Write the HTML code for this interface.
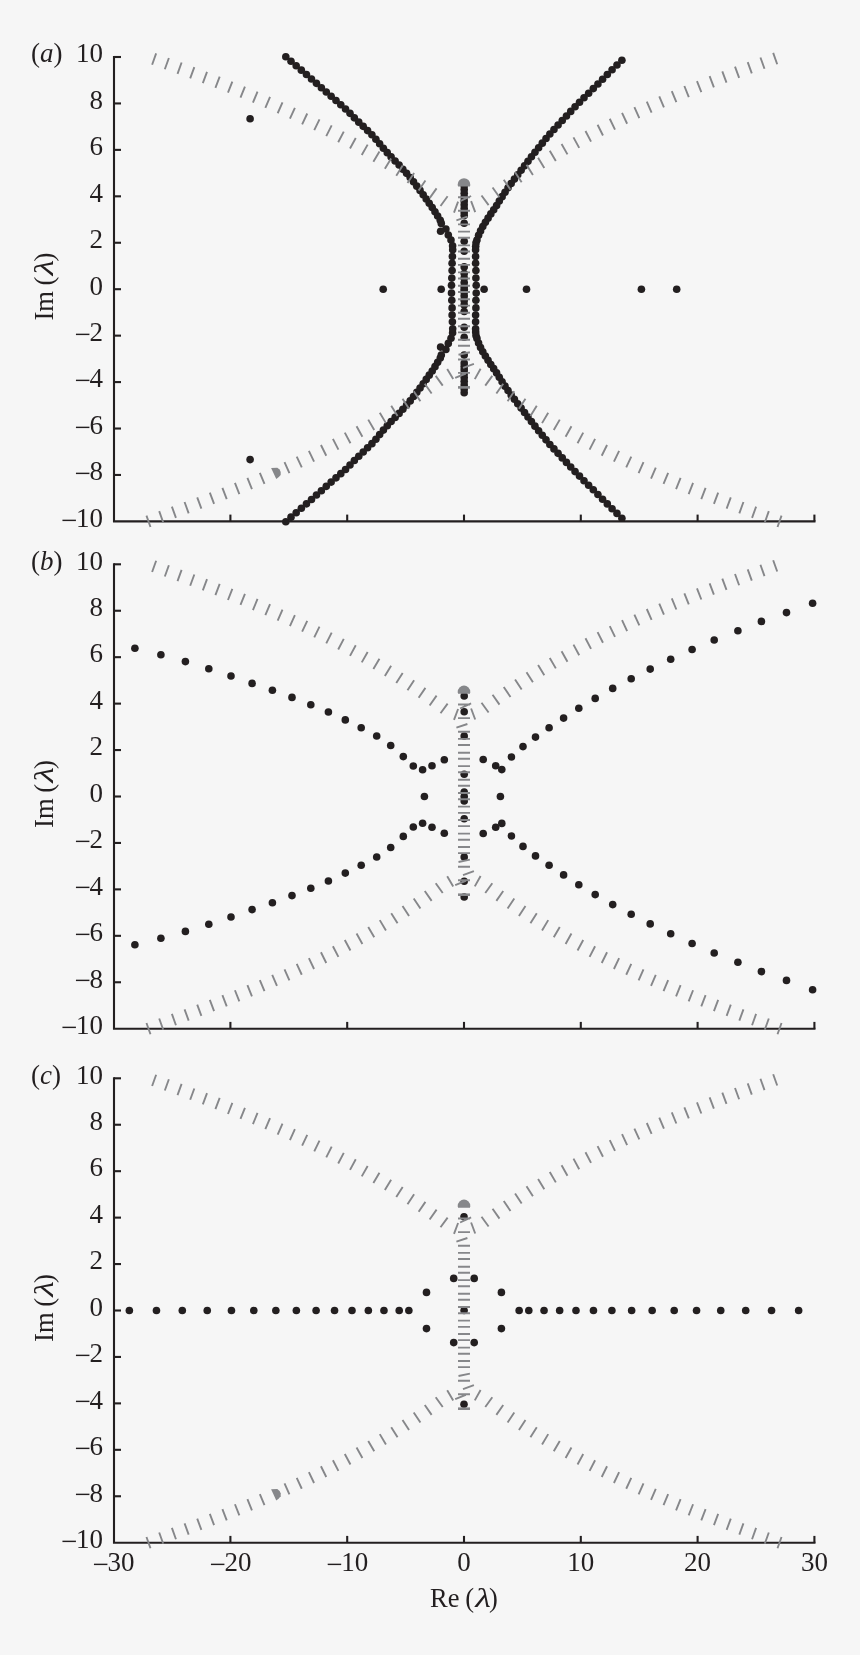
<!DOCTYPE html>
<html><head><meta charset="utf-8"><title>Eigenvalue spectra</title>
<style>html,body{margin:0;padding:0;background:#f6f6f6;}svg{display:block;will-change:transform;}</style></head>
<body><svg width="860" height="1655" viewBox="0 0 860 1655">
<rect width="860" height="1655" fill="#f6f6f6"/>
<path d="M114 56V522.45M112.95 521.4H815.5" fill="none" stroke="#231f20" stroke-width="2.1"/>
<line x1="114" y1="57" x2="121" y2="57" stroke="#231f20" stroke-width="2.1"/>
<line x1="114" y1="103.44" x2="121" y2="103.44" stroke="#231f20" stroke-width="2.1"/>
<line x1="114" y1="149.88" x2="121" y2="149.88" stroke="#231f20" stroke-width="2.1"/>
<line x1="114" y1="196.32" x2="121" y2="196.32" stroke="#231f20" stroke-width="2.1"/>
<line x1="114" y1="242.76" x2="121" y2="242.76" stroke="#231f20" stroke-width="2.1"/>
<line x1="114" y1="289.2" x2="121" y2="289.2" stroke="#231f20" stroke-width="2.1"/>
<line x1="114" y1="335.64" x2="121" y2="335.64" stroke="#231f20" stroke-width="2.1"/>
<line x1="114" y1="382.08" x2="121" y2="382.08" stroke="#231f20" stroke-width="2.1"/>
<line x1="114" y1="428.52" x2="121" y2="428.52" stroke="#231f20" stroke-width="2.1"/>
<line x1="114" y1="474.96" x2="121" y2="474.96" stroke="#231f20" stroke-width="2.1"/>
<line x1="230.4" y1="521.4" x2="230.4" y2="514.6" stroke="#231f20" stroke-width="2.1"/>
<line x1="347.2" y1="521.4" x2="347.2" y2="514.6" stroke="#231f20" stroke-width="2.1"/>
<line x1="464" y1="521.4" x2="464" y2="514.6" stroke="#231f20" stroke-width="2.1"/>
<line x1="580.8" y1="521.4" x2="580.8" y2="514.6" stroke="#231f20" stroke-width="2.1"/>
<line x1="697.6" y1="521.4" x2="697.6" y2="514.6" stroke="#231f20" stroke-width="2.1"/>
<line x1="814.4" y1="521.4" x2="814.4" y2="514.6" stroke="#231f20" stroke-width="2.1"/>
<g font-family="Liberation Serif, serif" font-size="27" fill="#231f20"><text x="103" y="62.3" text-anchor="end">10</text><text x="103" y="108.74" text-anchor="end">8</text><text x="103" y="155.18" text-anchor="end">6</text><text x="103" y="201.62" text-anchor="end">4</text><text x="103" y="248.06" text-anchor="end">2</text><text x="103" y="294.5" text-anchor="end">0</text><text x="103" y="340.94" text-anchor="end"><tspan font-size="29" dy="2.8">−</tspan><tspan dx="-1.4" dy="-2.8">2</tspan></text><text x="103" y="387.38" text-anchor="end"><tspan font-size="29" dy="2.8">−</tspan><tspan dx="-1.4" dy="-2.8">4</tspan></text><text x="103" y="433.82" text-anchor="end"><tspan font-size="29" dy="2.8">−</tspan><tspan dx="-1.4" dy="-2.8">6</tspan></text><text x="103" y="480.26" text-anchor="end"><tspan font-size="29" dy="2.8">−</tspan><tspan dx="-1.4" dy="-2.8">8</tspan></text><text x="103" y="526.7" text-anchor="end"><tspan font-size="29" dy="2.8">−</tspan><tspan dx="-1.4" dy="-2.8">10</tspan></text></g>
<text x="31" y="62.3" font-family="Liberation Serif, serif" font-size="27" fill="#231f20">(<tspan font-style="italic">a</tspan>)</text>
<g transform="translate(53.0 320) rotate(-90)" font-family="Liberation Serif, serif" font-size="26.5" fill="#231f20"><text x="-0.6" y="0">Im</text><text x="34.6" y="0">(</text><text transform="translate(44.6 0) scale(1.36 1.07)" font-style="italic">λ</text><text x="58.4" y="0">)</text></g>
<path d="M114 563.3V1029.75M112.95 1028.7H815.5" fill="none" stroke="#231f20" stroke-width="2.1"/>
<line x1="114" y1="564.3" x2="121" y2="564.3" stroke="#231f20" stroke-width="2.1"/>
<line x1="114" y1="610.74" x2="121" y2="610.74" stroke="#231f20" stroke-width="2.1"/>
<line x1="114" y1="657.18" x2="121" y2="657.18" stroke="#231f20" stroke-width="2.1"/>
<line x1="114" y1="703.62" x2="121" y2="703.62" stroke="#231f20" stroke-width="2.1"/>
<line x1="114" y1="750.06" x2="121" y2="750.06" stroke="#231f20" stroke-width="2.1"/>
<line x1="114" y1="796.5" x2="121" y2="796.5" stroke="#231f20" stroke-width="2.1"/>
<line x1="114" y1="842.94" x2="121" y2="842.94" stroke="#231f20" stroke-width="2.1"/>
<line x1="114" y1="889.38" x2="121" y2="889.38" stroke="#231f20" stroke-width="2.1"/>
<line x1="114" y1="935.82" x2="121" y2="935.82" stroke="#231f20" stroke-width="2.1"/>
<line x1="114" y1="982.26" x2="121" y2="982.26" stroke="#231f20" stroke-width="2.1"/>
<line x1="230.4" y1="1028.7" x2="230.4" y2="1021.9" stroke="#231f20" stroke-width="2.1"/>
<line x1="347.2" y1="1028.7" x2="347.2" y2="1021.9" stroke="#231f20" stroke-width="2.1"/>
<line x1="464" y1="1028.7" x2="464" y2="1021.9" stroke="#231f20" stroke-width="2.1"/>
<line x1="580.8" y1="1028.7" x2="580.8" y2="1021.9" stroke="#231f20" stroke-width="2.1"/>
<line x1="697.6" y1="1028.7" x2="697.6" y2="1021.9" stroke="#231f20" stroke-width="2.1"/>
<line x1="814.4" y1="1028.7" x2="814.4" y2="1021.9" stroke="#231f20" stroke-width="2.1"/>
<g font-family="Liberation Serif, serif" font-size="27" fill="#231f20"><text x="103" y="569.6" text-anchor="end">10</text><text x="103" y="616.04" text-anchor="end">8</text><text x="103" y="662.48" text-anchor="end">6</text><text x="103" y="708.92" text-anchor="end">4</text><text x="103" y="755.36" text-anchor="end">2</text><text x="103" y="801.8" text-anchor="end">0</text><text x="103" y="848.24" text-anchor="end"><tspan font-size="29" dy="2.8">−</tspan><tspan dx="-1.4" dy="-2.8">2</tspan></text><text x="103" y="894.68" text-anchor="end"><tspan font-size="29" dy="2.8">−</tspan><tspan dx="-1.4" dy="-2.8">4</tspan></text><text x="103" y="941.12" text-anchor="end"><tspan font-size="29" dy="2.8">−</tspan><tspan dx="-1.4" dy="-2.8">6</tspan></text><text x="103" y="987.56" text-anchor="end"><tspan font-size="29" dy="2.8">−</tspan><tspan dx="-1.4" dy="-2.8">8</tspan></text><text x="103" y="1034" text-anchor="end"><tspan font-size="29" dy="2.8">−</tspan><tspan dx="-1.4" dy="-2.8">10</tspan></text></g>
<text x="31" y="569.6" font-family="Liberation Serif, serif" font-size="27" fill="#231f20">(<tspan font-style="italic">b</tspan>)</text>
<g transform="translate(53.0 827.3) rotate(-90)" font-family="Liberation Serif, serif" font-size="26.5" fill="#231f20"><text x="-0.6" y="0">Im</text><text x="34.6" y="0">(</text><text transform="translate(44.6 0) scale(1.36 1.07)" font-style="italic">λ</text><text x="58.4" y="0">)</text></g>
<path d="M114 1077.3V1543.75M112.95 1542.7H815.5" fill="none" stroke="#231f20" stroke-width="2.1"/>
<line x1="114" y1="1078.3" x2="121" y2="1078.3" stroke="#231f20" stroke-width="2.1"/>
<line x1="114" y1="1124.74" x2="121" y2="1124.74" stroke="#231f20" stroke-width="2.1"/>
<line x1="114" y1="1171.18" x2="121" y2="1171.18" stroke="#231f20" stroke-width="2.1"/>
<line x1="114" y1="1217.62" x2="121" y2="1217.62" stroke="#231f20" stroke-width="2.1"/>
<line x1="114" y1="1264.06" x2="121" y2="1264.06" stroke="#231f20" stroke-width="2.1"/>
<line x1="114" y1="1310.5" x2="121" y2="1310.5" stroke="#231f20" stroke-width="2.1"/>
<line x1="114" y1="1356.94" x2="121" y2="1356.94" stroke="#231f20" stroke-width="2.1"/>
<line x1="114" y1="1403.38" x2="121" y2="1403.38" stroke="#231f20" stroke-width="2.1"/>
<line x1="114" y1="1449.82" x2="121" y2="1449.82" stroke="#231f20" stroke-width="2.1"/>
<line x1="114" y1="1496.26" x2="121" y2="1496.26" stroke="#231f20" stroke-width="2.1"/>
<line x1="230.4" y1="1542.7" x2="230.4" y2="1535.9" stroke="#231f20" stroke-width="2.1"/>
<line x1="347.2" y1="1542.7" x2="347.2" y2="1535.9" stroke="#231f20" stroke-width="2.1"/>
<line x1="464" y1="1542.7" x2="464" y2="1535.9" stroke="#231f20" stroke-width="2.1"/>
<line x1="580.8" y1="1542.7" x2="580.8" y2="1535.9" stroke="#231f20" stroke-width="2.1"/>
<line x1="697.6" y1="1542.7" x2="697.6" y2="1535.9" stroke="#231f20" stroke-width="2.1"/>
<line x1="814.4" y1="1542.7" x2="814.4" y2="1535.9" stroke="#231f20" stroke-width="2.1"/>
<g font-family="Liberation Serif, serif" font-size="27" fill="#231f20"><text x="103" y="1083.6" text-anchor="end">10</text><text x="103" y="1130.04" text-anchor="end">8</text><text x="103" y="1176.48" text-anchor="end">6</text><text x="103" y="1222.92" text-anchor="end">4</text><text x="103" y="1269.36" text-anchor="end">2</text><text x="103" y="1315.8" text-anchor="end">0</text><text x="103" y="1362.24" text-anchor="end"><tspan font-size="29" dy="2.8">−</tspan><tspan dx="-1.4" dy="-2.8">2</tspan></text><text x="103" y="1408.68" text-anchor="end"><tspan font-size="29" dy="2.8">−</tspan><tspan dx="-1.4" dy="-2.8">4</tspan></text><text x="103" y="1455.12" text-anchor="end"><tspan font-size="29" dy="2.8">−</tspan><tspan dx="-1.4" dy="-2.8">6</tspan></text><text x="103" y="1501.56" text-anchor="end"><tspan font-size="29" dy="2.8">−</tspan><tspan dx="-1.4" dy="-2.8">8</tspan></text><text x="103" y="1548" text-anchor="end"><tspan font-size="29" dy="2.8">−</tspan><tspan dx="-1.4" dy="-2.8">10</tspan></text></g>
<text x="31" y="1083.6" font-family="Liberation Serif, serif" font-size="27" fill="#231f20">(<tspan font-style="italic">c</tspan>)</text>
<g transform="translate(53.0 1341.3) rotate(-90)" font-family="Liberation Serif, serif" font-size="26.5" fill="#231f20"><text x="-0.6" y="0">Im</text><text x="34.6" y="0">(</text><text transform="translate(44.6 0) scale(1.36 1.07)" font-style="italic">λ</text><text x="58.4" y="0">)</text></g>
<g font-family="Liberation Serif, serif" font-size="27" fill="#231f20"><text x="113.6" y="1571.2" text-anchor="middle"><tspan font-size="29" dy="2.8">−</tspan><tspan dx="-1.4" dy="-2.8">30</tspan></text><text x="230.4" y="1571.2" text-anchor="middle"><tspan font-size="29" dy="2.8">−</tspan><tspan dx="-1.4" dy="-2.8">20</tspan></text><text x="347.2" y="1571.2" text-anchor="middle"><tspan font-size="29" dy="2.8">−</tspan><tspan dx="-1.4" dy="-2.8">10</tspan></text><text x="464" y="1571.2" text-anchor="middle">0</text><text x="580.8" y="1571.2" text-anchor="middle">10</text><text x="697.6" y="1571.2" text-anchor="middle">20</text><text x="814.4" y="1571.2" text-anchor="middle">30</text></g>
<g transform="translate(430.6 1606.7)" font-family="Liberation Serif, serif" font-size="26.5" fill="#231f20"><text x="-0.6" y="0">Re</text><text x="34.6" y="0">(</text><text transform="translate(44.6 0) scale(1.36 1.07)" font-style="italic">λ</text><text x="58.4" y="0">)</text></g>
<g fill="#231f20"><circle cx="285.8" cy="56.7" r="3.8"/><circle cx="291.01" cy="61.23" r="3.8"/><circle cx="296.18" cy="65.72" r="3.8"/><circle cx="301.34" cy="70.14" r="3.8"/><circle cx="306.46" cy="74.53" r="3.8"/><circle cx="311.48" cy="78.95" r="3.8"/><circle cx="316.46" cy="83.35" r="3.8"/><circle cx="321.38" cy="87.72" r="3.8"/><circle cx="326.27" cy="92.06" r="3.8"/><circle cx="331.15" cy="96.32" r="3.8"/><circle cx="336.01" cy="100.54" r="3.8"/><circle cx="340.79" cy="104.77" r="3.8"/><circle cx="345.52" cy="108.97" r="3.8"/><circle cx="350" cy="113.37" r="3.8"/><circle cx="354.35" cy="117.83" r="3.8"/><circle cx="358.77" cy="122.14" r="3.8"/><circle cx="363.2" cy="126.37" r="3.8"/><circle cx="367.58" cy="130.58" r="3.8"/><circle cx="371.91" cy="134.77" r="3.8"/><circle cx="375.9" cy="139.21" r="3.8"/><circle cx="379.64" cy="143.79" r="3.8"/><circle cx="383.4" cy="148.3" r="3.8"/><circle cx="387.26" cy="152.64" r="3.8"/><circle cx="391.12" cy="156.92" r="3.8"/><circle cx="395.13" cy="160.98" r="3.8"/><circle cx="399.1" cy="165.02" r="3.8"/><circle cx="402.85" cy="169.19" r="3.8"/><circle cx="406.57" cy="173.34" r="3.8"/><circle cx="410.19" cy="177.5" r="3.8"/><circle cx="413.5" cy="181.84" r="3.8"/><circle cx="416.79" cy="186.14" r="3.8"/><circle cx="420.05" cy="190.4" r="3.8"/><circle cx="423.19" cy="194.69" r="3.8"/><circle cx="426.22" cy="198.98" r="3.8"/><circle cx="429.23" cy="203.24" r="3.8"/><circle cx="432.21" cy="207.45" r="3.8"/><circle cx="434.98" cy="211.73" r="3.8"/><circle cx="437.65" cy="216.03" r="3.8"/><circle cx="440.27" cy="220.3" r="3.8"/><circle cx="441.3" cy="223.4" r="3.8"/><circle cx="445.9" cy="229" r="3.8"/><circle cx="448.3" cy="235" r="3.8"/><circle cx="451" cy="240.1" r="3.8"/><circle cx="452.6" cy="245.7" r="3.8"/><circle cx="452.7" cy="249.7" r="3.8"/><circle cx="452.4" cy="256.6" r="3.8"/><circle cx="452.1" cy="263.3" r="3.8"/><circle cx="452.1" cy="270.5" r="3.8"/><circle cx="451.8" cy="278.1" r="3.8"/><circle cx="451.5" cy="285.3" r="3.8"/><circle cx="440.6" cy="231.3" r="3.8"/><circle cx="621.9" cy="60.2" r="3.8"/><circle cx="616.97" cy="64.98" r="3.8"/><circle cx="612.09" cy="69.71" r="3.8"/><circle cx="607.32" cy="74.48" r="3.8"/><circle cx="602.58" cy="79.22" r="3.8"/><circle cx="597.91" cy="83.93" r="3.8"/><circle cx="593.29" cy="88.61" r="3.8"/><circle cx="588.63" cy="93.18" r="3.8"/><circle cx="584.01" cy="97.7" r="3.8"/><circle cx="579.51" cy="102.28" r="3.8"/><circle cx="575.06" cy="106.82" r="3.8"/><circle cx="570.73" cy="111.41" r="3.8"/><circle cx="566.46" cy="115.98" r="3.8"/><circle cx="562.25" cy="120.52" r="3.8"/><circle cx="558.08" cy="125.03" r="3.8"/><circle cx="553.95" cy="129.51" r="3.8"/><circle cx="549.86" cy="133.95" r="3.8"/><circle cx="546.02" cy="138.54" r="3.8"/><circle cx="542.29" cy="143.15" r="3.8"/><circle cx="538.61" cy="147.72" r="3.8"/><circle cx="534.96" cy="152.26" r="3.8"/><circle cx="531.42" cy="156.81" r="3.8"/><circle cx="527.98" cy="161.37" r="3.8"/><circle cx="524.55" cy="165.87" r="3.8"/><circle cx="521.12" cy="170.3" r="3.8"/><circle cx="517.74" cy="174.71" r="3.8"/><circle cx="514.42" cy="179.08" r="3.8"/><circle cx="511.17" cy="183.46" r="3.8"/><circle cx="508.03" cy="187.84" r="3.8"/><circle cx="505" cy="192.24" r="3.8"/><circle cx="502.1" cy="196.66" r="3.8"/><circle cx="499.29" cy="201.08" r="3.8"/><circle cx="496.59" cy="205.51" r="3.8"/><circle cx="493.7" cy="209.75" r="3.8"/><circle cx="490.81" cy="213.92" r="3.8"/><circle cx="488.05" cy="218.13" r="3.8"/><circle cx="485.37" cy="222.33" r="3.8"/><circle cx="482.79" cy="226.53" r="3.8"/><circle cx="480.56" cy="230.88" r="3.8"/><circle cx="478.58" cy="235.37" r="3.8"/><circle cx="476.95" cy="239.98" r="3.8"/><circle cx="476" cy="242.8" r="3.8"/><circle cx="475.7" cy="246.3" r="3.8"/><circle cx="475.6" cy="249.7" r="3.8"/><circle cx="475.6" cy="256.6" r="3.8"/><circle cx="475.6" cy="263.3" r="3.8"/><circle cx="475.9" cy="270.5" r="3.8"/><circle cx="475.9" cy="278.1" r="3.8"/><circle cx="476.2" cy="285.3" r="3.8"/><circle cx="464.2" cy="185.7" r="3.8"/><circle cx="464.2" cy="189.5" r="3.8"/><circle cx="464.2" cy="193.3" r="3.8"/><circle cx="464.2" cy="197.1" r="3.8"/><circle cx="464.2" cy="200.9" r="3.8"/><circle cx="464.2" cy="204.7" r="3.8"/><circle cx="464.2" cy="208.5" r="3.8"/><circle cx="464.2" cy="212" r="3.8"/><circle cx="464.2" cy="215.4" r="3.8"/><circle cx="464.2" cy="223.3" r="3.8"/><circle cx="464.2" cy="241.2" r="3.8"/><circle cx="464.2" cy="251.2" r="3.8"/><circle cx="464.2" cy="266.9" r="3.8"/><circle cx="464.2" cy="273.5" r="3.8"/><circle cx="464.2" cy="278" r="3.8"/><circle cx="464.2" cy="282.5" r="3.8"/><circle cx="464.2" cy="286.5" r="3.8"/><circle cx="250.1" cy="118.8" r="3.8"/><circle cx="285.8" cy="521.7" r="3.8"/><circle cx="291.01" cy="517.17" r="3.8"/><circle cx="296.18" cy="512.68" r="3.8"/><circle cx="301.34" cy="508.26" r="3.8"/><circle cx="306.46" cy="503.87" r="3.8"/><circle cx="311.48" cy="499.45" r="3.8"/><circle cx="316.46" cy="495.05" r="3.8"/><circle cx="321.38" cy="490.68" r="3.8"/><circle cx="326.27" cy="486.34" r="3.8"/><circle cx="331.15" cy="482.08" r="3.8"/><circle cx="336.01" cy="477.86" r="3.8"/><circle cx="340.79" cy="473.63" r="3.8"/><circle cx="345.52" cy="469.43" r="3.8"/><circle cx="350" cy="465.03" r="3.8"/><circle cx="354.35" cy="460.57" r="3.8"/><circle cx="358.77" cy="456.26" r="3.8"/><circle cx="363.2" cy="452.03" r="3.8"/><circle cx="367.58" cy="447.82" r="3.8"/><circle cx="371.91" cy="443.63" r="3.8"/><circle cx="375.9" cy="439.19" r="3.8"/><circle cx="379.64" cy="434.61" r="3.8"/><circle cx="383.4" cy="430.1" r="3.8"/><circle cx="387.26" cy="425.76" r="3.8"/><circle cx="391.12" cy="421.48" r="3.8"/><circle cx="395.13" cy="417.42" r="3.8"/><circle cx="399.1" cy="413.38" r="3.8"/><circle cx="402.85" cy="409.21" r="3.8"/><circle cx="406.57" cy="405.06" r="3.8"/><circle cx="410.19" cy="400.9" r="3.8"/><circle cx="413.5" cy="396.56" r="3.8"/><circle cx="416.79" cy="392.26" r="3.8"/><circle cx="420.05" cy="388" r="3.8"/><circle cx="423.19" cy="383.71" r="3.8"/><circle cx="426.22" cy="379.42" r="3.8"/><circle cx="429.23" cy="375.16" r="3.8"/><circle cx="432.21" cy="370.95" r="3.8"/><circle cx="434.98" cy="366.67" r="3.8"/><circle cx="437.65" cy="362.37" r="3.8"/><circle cx="440.27" cy="358.1" r="3.8"/><circle cx="441.3" cy="355" r="3.8"/><circle cx="445.9" cy="349.4" r="3.8"/><circle cx="448.3" cy="343.4" r="3.8"/><circle cx="451" cy="338.3" r="3.8"/><circle cx="452.6" cy="332.7" r="3.8"/><circle cx="452.7" cy="328.7" r="3.8"/><circle cx="452.4" cy="321.8" r="3.8"/><circle cx="452.1" cy="315.1" r="3.8"/><circle cx="452.1" cy="307.9" r="3.8"/><circle cx="451.8" cy="300.3" r="3.8"/><circle cx="451.5" cy="293.1" r="3.8"/><circle cx="440.6" cy="347.1" r="3.8"/><circle cx="621.9" cy="518.2" r="3.8"/><circle cx="616.97" cy="513.42" r="3.8"/><circle cx="612.09" cy="508.69" r="3.8"/><circle cx="607.32" cy="503.92" r="3.8"/><circle cx="602.58" cy="499.18" r="3.8"/><circle cx="597.91" cy="494.47" r="3.8"/><circle cx="593.29" cy="489.79" r="3.8"/><circle cx="588.63" cy="485.22" r="3.8"/><circle cx="584.01" cy="480.7" r="3.8"/><circle cx="579.51" cy="476.12" r="3.8"/><circle cx="575.06" cy="471.58" r="3.8"/><circle cx="570.73" cy="466.99" r="3.8"/><circle cx="566.46" cy="462.42" r="3.8"/><circle cx="562.25" cy="457.88" r="3.8"/><circle cx="558.08" cy="453.37" r="3.8"/><circle cx="553.95" cy="448.89" r="3.8"/><circle cx="549.86" cy="444.45" r="3.8"/><circle cx="546.02" cy="439.86" r="3.8"/><circle cx="542.29" cy="435.25" r="3.8"/><circle cx="538.61" cy="430.68" r="3.8"/><circle cx="534.96" cy="426.14" r="3.8"/><circle cx="531.42" cy="421.59" r="3.8"/><circle cx="527.98" cy="417.03" r="3.8"/><circle cx="524.55" cy="412.53" r="3.8"/><circle cx="521.12" cy="408.1" r="3.8"/><circle cx="517.74" cy="403.69" r="3.8"/><circle cx="514.42" cy="399.32" r="3.8"/><circle cx="511.17" cy="394.94" r="3.8"/><circle cx="508.03" cy="390.56" r="3.8"/><circle cx="505" cy="386.16" r="3.8"/><circle cx="502.1" cy="381.74" r="3.8"/><circle cx="499.29" cy="377.32" r="3.8"/><circle cx="496.59" cy="372.89" r="3.8"/><circle cx="493.7" cy="368.65" r="3.8"/><circle cx="490.81" cy="364.48" r="3.8"/><circle cx="488.05" cy="360.27" r="3.8"/><circle cx="485.37" cy="356.07" r="3.8"/><circle cx="482.79" cy="351.87" r="3.8"/><circle cx="480.56" cy="347.52" r="3.8"/><circle cx="478.58" cy="343.03" r="3.8"/><circle cx="476.95" cy="338.42" r="3.8"/><circle cx="476" cy="335.6" r="3.8"/><circle cx="475.7" cy="332.1" r="3.8"/><circle cx="475.6" cy="328.7" r="3.8"/><circle cx="475.6" cy="321.8" r="3.8"/><circle cx="475.6" cy="315.1" r="3.8"/><circle cx="475.9" cy="307.9" r="3.8"/><circle cx="475.9" cy="300.3" r="3.8"/><circle cx="476.2" cy="293.1" r="3.8"/><circle cx="464.2" cy="392.7" r="3.8"/><circle cx="464.2" cy="388.9" r="3.8"/><circle cx="464.2" cy="385.1" r="3.8"/><circle cx="464.2" cy="381.3" r="3.8"/><circle cx="464.2" cy="377.5" r="3.8"/><circle cx="464.2" cy="373.7" r="3.8"/><circle cx="464.2" cy="369.9" r="3.8"/><circle cx="464.2" cy="366.4" r="3.8"/><circle cx="464.2" cy="363" r="3.8"/><circle cx="464.2" cy="355.1" r="3.8"/><circle cx="464.2" cy="337.2" r="3.8"/><circle cx="464.2" cy="327.2" r="3.8"/><circle cx="464.2" cy="311.5" r="3.8"/><circle cx="464.2" cy="304.9" r="3.8"/><circle cx="464.2" cy="300.4" r="3.8"/><circle cx="464.2" cy="295.9" r="3.8"/><circle cx="464.2" cy="291.9" r="3.8"/><circle cx="250.1" cy="459.6" r="3.8"/><circle cx="383.2" cy="289.2" r="3.8"/><circle cx="441.2" cy="289.2" r="3.8"/><circle cx="484.1" cy="289.2" r="3.8"/><circle cx="526.5" cy="289.2" r="3.8"/><circle cx="641.4" cy="289.2" r="3.8"/><circle cx="676.7" cy="289.2" r="3.8"/><circle cx="464.2" cy="289.2" r="3.8"/></g>
<g fill="#231f20"><circle cx="134.9" cy="648.2" r="3.8"/><circle cx="160.9" cy="654.7" r="3.8"/><circle cx="185.4" cy="661.6" r="3.8"/><circle cx="208.8" cy="668.7" r="3.8"/><circle cx="231" cy="676" r="3.8"/><circle cx="252.1" cy="683.4" r="3.8"/><circle cx="272.4" cy="690.3" r="3.8"/><circle cx="292" cy="697.4" r="3.8"/><circle cx="310.8" cy="704.7" r="3.8"/><circle cx="328.4" cy="712" r="3.8"/><circle cx="345.3" cy="719.9" r="3.8"/><circle cx="361.2" cy="727.7" r="3.8"/><circle cx="376.7" cy="736" r="3.8"/><circle cx="390.7" cy="745.5" r="3.8"/><circle cx="403.3" cy="756.6" r="3.8"/><circle cx="413.3" cy="766" r="3.8"/><circle cx="422.6" cy="769.7" r="3.8"/><circle cx="432" cy="765.8" r="3.8"/><circle cx="444.3" cy="759.7" r="3.8"/><circle cx="483.2" cy="759.5" r="3.8"/><circle cx="495.7" cy="765.8" r="3.8"/><circle cx="501.8" cy="769.6" r="3.8"/><circle cx="511.4" cy="757" r="3.8"/><circle cx="523" cy="746.6" r="3.8"/><circle cx="535.5" cy="737.1" r="3.8"/><circle cx="549.1" cy="727.7" r="3.8"/><circle cx="563.6" cy="718.1" r="3.8"/><circle cx="578.8" cy="708.3" r="3.8"/><circle cx="595.2" cy="698.4" r="3.8"/><circle cx="612.7" cy="688.4" r="3.8"/><circle cx="631.2" cy="678.8" r="3.8"/><circle cx="650.2" cy="669.1" r="3.8"/><circle cx="670.7" cy="659.3" r="3.8"/><circle cx="692.1" cy="649.5" r="3.8"/><circle cx="714.2" cy="640" r="3.8"/><circle cx="737.9" cy="630.7" r="3.8"/><circle cx="761.4" cy="621.4" r="3.8"/><circle cx="786.5" cy="612.6" r="3.8"/><circle cx="812.6" cy="603.3" r="3.8"/><circle cx="464.2" cy="696" r="3.8"/><circle cx="464.2" cy="711.8" r="3.8"/><circle cx="464.2" cy="736" r="3.8"/><circle cx="464.2" cy="774.3" r="3.8"/><circle cx="464.2" cy="792" r="3.8"/><circle cx="134.9" cy="944.8" r="3.8"/><circle cx="160.9" cy="938.3" r="3.8"/><circle cx="185.4" cy="931.4" r="3.8"/><circle cx="208.8" cy="924.3" r="3.8"/><circle cx="231" cy="917" r="3.8"/><circle cx="252.1" cy="909.6" r="3.8"/><circle cx="272.4" cy="902.7" r="3.8"/><circle cx="292" cy="895.6" r="3.8"/><circle cx="310.8" cy="888.3" r="3.8"/><circle cx="328.4" cy="881" r="3.8"/><circle cx="345.3" cy="873.1" r="3.8"/><circle cx="361.2" cy="865.3" r="3.8"/><circle cx="376.7" cy="857" r="3.8"/><circle cx="390.7" cy="847.5" r="3.8"/><circle cx="403.3" cy="836.4" r="3.8"/><circle cx="413.3" cy="827" r="3.8"/><circle cx="422.6" cy="823.3" r="3.8"/><circle cx="432" cy="827.2" r="3.8"/><circle cx="444.3" cy="833.3" r="3.8"/><circle cx="483.2" cy="833.5" r="3.8"/><circle cx="495.7" cy="827.2" r="3.8"/><circle cx="501.8" cy="823.4" r="3.8"/><circle cx="511.4" cy="836" r="3.8"/><circle cx="523" cy="846.4" r="3.8"/><circle cx="535.5" cy="855.9" r="3.8"/><circle cx="549.1" cy="865.3" r="3.8"/><circle cx="563.6" cy="874.9" r="3.8"/><circle cx="578.8" cy="884.7" r="3.8"/><circle cx="595.2" cy="894.6" r="3.8"/><circle cx="612.7" cy="904.6" r="3.8"/><circle cx="631.2" cy="914.2" r="3.8"/><circle cx="650.2" cy="923.9" r="3.8"/><circle cx="670.7" cy="933.7" r="3.8"/><circle cx="692.1" cy="943.5" r="3.8"/><circle cx="714.2" cy="953" r="3.8"/><circle cx="737.9" cy="962.3" r="3.8"/><circle cx="761.4" cy="971.6" r="3.8"/><circle cx="786.5" cy="980.4" r="3.8"/><circle cx="812.6" cy="989.7" r="3.8"/><circle cx="464.2" cy="897" r="3.8"/><circle cx="464.2" cy="881.2" r="3.8"/><circle cx="464.2" cy="857" r="3.8"/><circle cx="464.2" cy="818.7" r="3.8"/><circle cx="464.2" cy="801" r="3.8"/><circle cx="424.4" cy="796.5" r="3.8"/><circle cx="500.4" cy="796.5" r="3.8"/><circle cx="464.2" cy="796.5" r="3.8"/></g>
<g fill="#231f20"><circle cx="408.85" cy="1310.5" r="3.8"/><circle cx="399.2" cy="1310.5" r="3.8"/><circle cx="383.95" cy="1310.5" r="3.8"/><circle cx="368.35" cy="1310.5" r="3.8"/><circle cx="352" cy="1310.5" r="3.8"/><circle cx="334.55" cy="1310.5" r="3.8"/><circle cx="316.1" cy="1310.5" r="3.8"/><circle cx="296.35" cy="1310.5" r="3.8"/><circle cx="275.85" cy="1310.5" r="3.8"/><circle cx="253.8" cy="1310.5" r="3.8"/><circle cx="231.45" cy="1310.5" r="3.8"/><circle cx="207.25" cy="1310.5" r="3.8"/><circle cx="182.3" cy="1310.5" r="3.8"/><circle cx="156.45" cy="1310.5" r="3.8"/><circle cx="129.35" cy="1310.5" r="3.8"/><circle cx="519.15" cy="1310.5" r="3.8"/><circle cx="528.8" cy="1310.5" r="3.8"/><circle cx="544.05" cy="1310.5" r="3.8"/><circle cx="559.65" cy="1310.5" r="3.8"/><circle cx="576" cy="1310.5" r="3.8"/><circle cx="593.45" cy="1310.5" r="3.8"/><circle cx="611.9" cy="1310.5" r="3.8"/><circle cx="631.65" cy="1310.5" r="3.8"/><circle cx="652.15" cy="1310.5" r="3.8"/><circle cx="674.2" cy="1310.5" r="3.8"/><circle cx="696.55" cy="1310.5" r="3.8"/><circle cx="720.75" cy="1310.5" r="3.8"/><circle cx="745.7" cy="1310.5" r="3.8"/><circle cx="771.55" cy="1310.5" r="3.8"/><circle cx="798.65" cy="1310.5" r="3.8"/><circle cx="464" cy="1216.7" r="3.8"/><circle cx="453.7" cy="1278.4" r="3.8"/><circle cx="474.2" cy="1278.4" r="3.8"/><circle cx="426.5" cy="1292.4" r="3.8"/><circle cx="501.4" cy="1292.4" r="3.8"/><circle cx="464" cy="1404.3" r="3.8"/><circle cx="453.7" cy="1342.6" r="3.8"/><circle cx="474.2" cy="1342.6" r="3.8"/><circle cx="426.5" cy="1328.6" r="3.8"/><circle cx="501.4" cy="1328.6" r="3.8"/><circle cx="464.1" cy="1310.5" r="3.8"/></g>
<path d="M440.51 205.97L447.62 196.31M429.64 198.13L436.59 188.34M418.64 190.47L425.42 180.56M407.51 183L414.11 172.98M396.26 175.73L402.68 165.59M384.87 168.65L391.12 158.41M373.37 161.76L379.45 151.42M361.76 155.07L367.66 144.62M350.03 148.56L355.77 138.02M338.2 142.24L343.77 131.61M326.27 136.1L331.68 125.39M314.25 130.14L319.5 119.35M302.14 124.35L307.24 113.49M289.94 118.72L294.9 107.8M277.68 113.25L282.5 102.26M265.34 107.93L270.04 96.88M252.94 102.73L257.52 91.64M240.48 97.67L244.95 86.53M227.97 92.72L232.34 81.54M215.42 87.87L219.69 76.66M202.82 83.12L207.02 71.88M190.18 78.44L194.32 67.17M177.52 73.82L181.6 62.54M164.83 69.25L168.88 57.95M152.12 64.72L156.14 53.41M488.61 205.15L481.52 195.47M499.49 197.32L492.57 187.52M510.5 189.69L503.75 179.77M521.65 182.24L515.07 172.2M532.92 174.99L526.51 164.84M544.31 167.93L538.08 157.67M555.83 161.06L549.77 150.7M567.46 154.39L561.57 143.93M579.19 147.9L573.47 137.35M591.03 141.6L585.48 130.96M602.97 135.48L597.58 124.76M615 129.54L609.77 118.74M627.12 123.76L622.04 112.89M639.32 118.15L634.38 107.22M651.6 112.69L646.79 101.7M663.94 107.38L659.26 96.33M676.35 102.2L671.78 91.11M688.81 97.15L684.36 86.01M701.33 92.21L696.97 81.03M713.89 87.38L709.62 76.16M726.49 82.63L722.3 71.38M739.13 77.95L735 66.69M751.79 73.34L747.71 62.06M764.49 68.78L760.44 57.48M777.2 64.25L773.18 52.94M435.7 375.93L442.74 385.66M424.77 383.7L431.64 393.54M413.72 391.27L420.41 401.23M402.53 398.65L409.05 408.73M391.22 405.84L397.56 416.02M379.78 412.83L385.95 423.12M368.23 419.63L374.23 430.03M356.56 426.24L362.39 436.73M344.79 432.67L350.45 443.25M332.91 438.91L338.41 449.57M320.94 444.96L326.28 455.71M308.88 450.85L314.06 461.67M296.73 456.57L301.77 467.46M284.51 462.13L289.4 473.08M259.84 472.8L264.48 483.86M247.41 477.93L251.94 489.04M234.93 482.94L239.35 494.1M222.4 487.84L226.73 499.04M209.82 492.65L214.07 503.88M197.21 497.37L201.38 508.62M184.56 502.02L188.67 513.3M171.89 506.62L175.95 517.91M159.19 511.16L163.22 522.47M146.47 515.68L150.48 527M492.3 375.93L485.26 385.66M503.23 383.7L496.36 393.54M514.28 391.27L507.59 401.23M525.47 398.65L518.95 408.73M536.78 405.84L530.44 416.02M548.22 412.83L542.05 423.12M559.77 419.63L553.77 430.03M571.44 426.24L565.61 436.73M583.21 432.67L577.55 443.25M595.09 438.91L589.59 449.57M607.06 444.96L601.72 455.71M619.12 450.85L613.94 461.67M631.27 456.57L626.23 467.46M643.49 462.13L638.6 473.08M655.79 467.53L651.03 478.55M668.16 472.8L663.52 483.86M680.59 477.93L676.06 489.04M693.07 482.94L688.65 494.1M705.6 487.84L701.27 499.04M718.18 492.65L713.93 503.88M730.79 497.37L726.62 508.62M743.44 502.02L739.33 513.3M756.11 506.62L752.05 517.91M768.81 511.16L764.78 522.47M781.53 515.68L777.52 527M458 285.7L470 285.7M458 278.5L470 278.5M458 272.4L470 272.4M458 264.9L470 264.9M458 258.8L470 258.8M458 251.5L470 251.5M458 245.4L470 245.4M458 237.7L470 237.7M458 231.6L470 231.6M458 224.4L470 224.4M458 210.8L470 210.8M458 197.2L470 197.2M458 185.6L470 185.6M458 292L470 292M458 299.3L470 299.3M458 305.6L470 305.6M458 312.7L470 312.7M458 318.8L470 318.8M458 326.3L470 326.3M458 332.4L470 332.4M458 339.7L470 339.7M458 345.8L470 345.8M458 359.5L470 359.5M458 372.9L470 372.9M460.1 201.2L471.1 196M458.1 201.7L454 212.6M471.1 201.2L475.2 212.2M456.4 220.4L467.4 216.7M458.5 354.7L469.9 352.3M463 367.9L473.9 363.9M455.2 377.9L465.8 373.5M447.2 369L453.2 379.1M480.6 368.7L474.8 379.1" stroke="#86878a" stroke-width="1.9" fill="none"/>
<path d="M457.75 185.8V184.5A6.25 6.25 0 0 1 470.25 184.5V185.8Z" fill="#86878a"/>
<rect x="458" y="386.1" width="12" height="2.6" fill="#86878a"/>
<path d="M271.1 468L277.3 467.8L279.6 469.6L280.7 471.9L280.7 475L278.8 477.1L276.3 479.1Z" fill="#86878a"/>
<path d="M440.51 713.27L447.62 703.61M429.64 705.43L436.59 695.64M418.64 697.77L425.42 687.86M407.51 690.3L414.11 680.28M396.26 683.03L402.68 672.89M384.87 675.95L391.12 665.71M373.37 669.06L379.45 658.72M361.76 662.37L367.66 651.92M350.03 655.86L355.77 645.32M338.2 649.54L343.77 638.91M326.27 643.4L331.68 632.69M314.25 637.44L319.5 626.65M302.14 631.65L307.24 620.79M289.94 626.02L294.9 615.1M277.68 620.55L282.5 609.56M265.34 615.23L270.04 604.18M252.94 610.03L257.52 598.94M240.48 604.97L244.95 593.83M227.97 600.02L232.34 588.84M215.42 595.17L219.69 583.96M202.82 590.42L207.02 579.18M190.18 585.74L194.32 574.47M177.52 581.12L181.6 569.84M164.83 576.55L168.88 565.25M152.12 572.02L156.14 560.71M488.61 712.45L481.52 702.77M499.49 704.62L492.57 694.82M510.5 696.99L503.75 687.07M521.65 689.54L515.07 679.5M532.92 682.29L526.51 672.14M544.31 675.23L538.08 664.97M555.83 668.36L549.77 658M567.46 661.69L561.57 651.23M579.19 655.2L573.47 644.65M591.03 648.9L585.48 638.26M602.97 642.78L597.58 632.06M615 636.84L609.77 626.04M627.12 631.06L622.04 620.19M639.32 625.45L634.38 614.52M651.6 619.99L646.79 609M663.94 614.68L659.26 603.63M676.35 609.5L671.78 598.41M688.81 604.45L684.36 593.31M701.33 599.51L696.97 588.33M713.89 594.68L709.62 583.46M726.49 589.93L722.3 578.68M739.13 585.25L735 573.99M751.79 580.64L747.71 569.36M764.49 576.08L760.44 564.78M777.2 571.55L773.18 560.24M435.7 883.23L442.74 892.96M424.77 891L431.64 900.84M413.72 898.57L420.41 908.53M402.53 905.95L409.05 916.03M391.22 913.14L397.56 923.32M379.78 920.13L385.95 930.42M368.23 926.93L374.23 937.33M356.56 933.54L362.39 944.03M344.79 939.97L350.45 950.55M332.91 946.21L338.41 956.87M320.94 952.26L326.28 963.01M308.88 958.15L314.06 968.97M296.73 963.87L301.77 974.76M284.51 969.43L289.4 980.38M272.21 974.83L276.97 985.85M259.84 980.1L264.48 991.16M247.41 985.23L251.94 996.34M234.93 990.24L239.35 1001.4M222.4 995.14L226.73 1006.34M209.82 999.95L214.07 1011.18M197.21 1004.67L201.38 1015.92M184.56 1009.32L188.67 1020.6M171.89 1013.92L175.95 1025.21M159.19 1018.46L163.22 1029.77M146.47 1022.98L150.48 1034.3M492.3 883.23L485.26 892.96M503.23 891L496.36 900.84M514.28 898.57L507.59 908.53M525.47 905.95L518.95 916.03M536.78 913.14L530.44 923.32M548.22 920.13L542.05 930.42M559.77 926.93L553.77 937.33M571.44 933.54L565.61 944.03M583.21 939.97L577.55 950.55M595.09 946.21L589.59 956.87M607.06 952.26L601.72 963.01M619.12 958.15L613.94 968.97M631.27 963.87L626.23 974.76M643.49 969.43L638.6 980.38M655.79 974.83L651.03 985.85M668.16 980.1L663.52 991.16M680.59 985.23L676.06 996.34M693.07 990.24L688.65 1001.4M705.6 995.14L701.27 1006.34M718.18 999.95L713.93 1011.18M730.79 1004.67L726.62 1015.92M743.44 1009.32L739.33 1020.6M756.11 1013.92L752.05 1025.21M768.81 1018.46L764.78 1029.77M781.53 1022.98L777.52 1034.3M458 793L470 793M458 785.8L470 785.8M458 779.7L470 779.7M458 772.2L470 772.2M458 766.1L470 766.1M458 758.8L470 758.8M458 752.7L470 752.7M458 745L470 745M458 738.9L470 738.9M458 731.7L470 731.7M458 718.1L470 718.1M458 704.5L470 704.5M458 692.9L470 692.9M458 799.3L470 799.3M458 806.6L470 806.6M458 812.9L470 812.9M458 820L470 820M458 826.1L470 826.1M458 833.6L470 833.6M458 839.7L470 839.7M458 847L470 847M458 853.1L470 853.1M458 866.8L470 866.8M458 880.2L470 880.2M460.1 708.5L471.1 703.3M458.1 709L454 719.9M471.1 708.5L475.2 719.5M456.4 727.7L467.4 724M458.5 862L469.9 859.6M463 875.2L473.9 871.2M455.2 885.2L465.8 880.8M447.2 876.3L453.2 886.4M480.6 876L474.8 886.4" stroke="#86878a" stroke-width="1.9" fill="none"/>
<path d="M457.75 693.1V691.8A6.25 6.25 0 0 1 470.25 691.8V693.1Z" fill="#86878a"/>
<rect x="458" y="893.4" width="12" height="2.6" fill="#86878a"/>
<path d="M440.51 1227.27L447.62 1217.61M429.64 1219.43L436.59 1209.64M418.64 1211.77L425.42 1201.86M407.51 1204.3L414.11 1194.28M396.26 1197.03L402.68 1186.89M384.87 1189.95L391.12 1179.71M373.37 1183.06L379.45 1172.72M361.76 1176.37L367.66 1165.92M350.03 1169.86L355.77 1159.32M338.2 1163.54L343.77 1152.91M326.27 1157.4L331.68 1146.69M314.25 1151.44L319.5 1140.65M302.14 1145.65L307.24 1134.79M289.94 1140.02L294.9 1129.1M277.68 1134.55L282.5 1123.56M265.34 1129.23L270.04 1118.18M252.94 1124.03L257.52 1112.94M240.48 1118.97L244.95 1107.83M227.97 1114.02L232.34 1102.84M215.42 1109.17L219.69 1097.96M202.82 1104.42L207.02 1093.18M190.18 1099.74L194.32 1088.47M177.52 1095.12L181.6 1083.84M164.83 1090.55L168.88 1079.25M152.12 1086.02L156.14 1074.71M488.61 1226.45L481.52 1216.77M499.49 1218.62L492.57 1208.82M510.5 1210.99L503.75 1201.07M521.65 1203.54L515.07 1193.5M532.92 1196.29L526.51 1186.14M544.31 1189.23L538.08 1178.97M555.83 1182.36L549.77 1172M567.46 1175.69L561.57 1165.23M579.19 1169.2L573.47 1158.65M591.03 1162.9L585.48 1152.26M602.97 1156.78L597.58 1146.06M615 1150.84L609.77 1140.04M627.12 1145.06L622.04 1134.19M639.32 1139.45L634.38 1128.52M651.6 1133.99L646.79 1123M663.94 1128.68L659.26 1117.63M676.35 1123.5L671.78 1112.41M688.81 1118.45L684.36 1107.31M701.33 1113.51L696.97 1102.33M713.89 1108.68L709.62 1097.46M726.49 1103.93L722.3 1092.68M739.13 1099.25L735 1087.99M751.79 1094.64L747.71 1083.36M764.49 1090.08L760.44 1078.78M777.2 1085.55L773.18 1074.24M435.7 1397.23L442.74 1406.96M424.77 1405L431.64 1414.84M413.72 1412.57L420.41 1422.53M402.53 1419.95L409.05 1430.03M391.22 1427.14L397.56 1437.32M379.78 1434.13L385.95 1444.42M368.23 1440.93L374.23 1451.33M356.56 1447.54L362.39 1458.03M344.79 1453.97L350.45 1464.55M332.91 1460.21L338.41 1470.87M320.94 1466.26L326.28 1477.01M308.88 1472.15L314.06 1482.97M296.73 1477.87L301.77 1488.76M284.51 1483.43L289.4 1494.38M259.84 1494.1L264.48 1505.16M247.41 1499.23L251.94 1510.34M234.93 1504.24L239.35 1515.4M222.4 1509.14L226.73 1520.34M209.82 1513.95L214.07 1525.18M197.21 1518.67L201.38 1529.92M184.56 1523.32L188.67 1534.6M171.89 1527.92L175.95 1539.21M159.19 1532.46L163.22 1543.77M146.47 1536.98L150.48 1548.3M492.3 1397.23L485.26 1406.96M503.23 1405L496.36 1414.84M514.28 1412.57L507.59 1422.53M525.47 1419.95L518.95 1430.03M536.78 1427.14L530.44 1437.32M548.22 1434.13L542.05 1444.42M559.77 1440.93L553.77 1451.33M571.44 1447.54L565.61 1458.03M583.21 1453.97L577.55 1464.55M595.09 1460.21L589.59 1470.87M607.06 1466.26L601.72 1477.01M619.12 1472.15L613.94 1482.97M631.27 1477.87L626.23 1488.76M643.49 1483.43L638.6 1494.38M655.79 1488.83L651.03 1499.85M668.16 1494.1L663.52 1505.16M680.59 1499.23L676.06 1510.34M693.07 1504.24L688.65 1515.4M705.6 1509.14L701.27 1520.34M718.18 1513.95L713.93 1525.18M730.79 1518.67L726.62 1529.92M743.44 1523.32L739.33 1534.6M756.11 1527.92L752.05 1539.21M768.81 1532.46L764.78 1543.77M781.53 1536.98L777.52 1548.3M458 1307L470 1307M458 1299.8L470 1299.8M458 1293.7L470 1293.7M458 1286.2L470 1286.2M458 1280.1L470 1280.1M458 1272.8L470 1272.8M458 1266.7L470 1266.7M458 1259L470 1259M458 1252.9L470 1252.9M458 1245.7L470 1245.7M458 1232.1L470 1232.1M458 1218.5L470 1218.5M458 1206.9L470 1206.9M458 1313.3L470 1313.3M458 1320.6L470 1320.6M458 1326.9L470 1326.9M458 1334L470 1334M458 1340.1L470 1340.1M458 1347.6L470 1347.6M458 1353.7L470 1353.7M458 1361L470 1361M458 1367.1L470 1367.1M458 1380.8L470 1380.8M458 1394.2L470 1394.2M460.1 1222.5L471.1 1217.3M458.1 1223L454 1233.9M471.1 1222.5L475.2 1233.5M456.4 1241.7L467.4 1238M458.5 1376L469.9 1373.6M463 1389.2L473.9 1385.2M455.2 1399.2L465.8 1394.8M447.2 1390.3L453.2 1400.4M480.6 1390L474.8 1400.4" stroke="#86878a" stroke-width="1.9" fill="none"/>
<path d="M457.75 1207.1V1205.8A6.25 6.25 0 0 1 470.25 1205.8V1207.1Z" fill="#86878a"/>
<rect x="458" y="1407.4" width="12" height="2.6" fill="#86878a"/>
<path d="M271.1 1489.3L277.3 1489.1L279.6 1490.9L280.7 1493.2L280.7 1496.3L278.8 1498.4L276.3 1500.4Z" fill="#86878a"/>
</svg></body></html>
